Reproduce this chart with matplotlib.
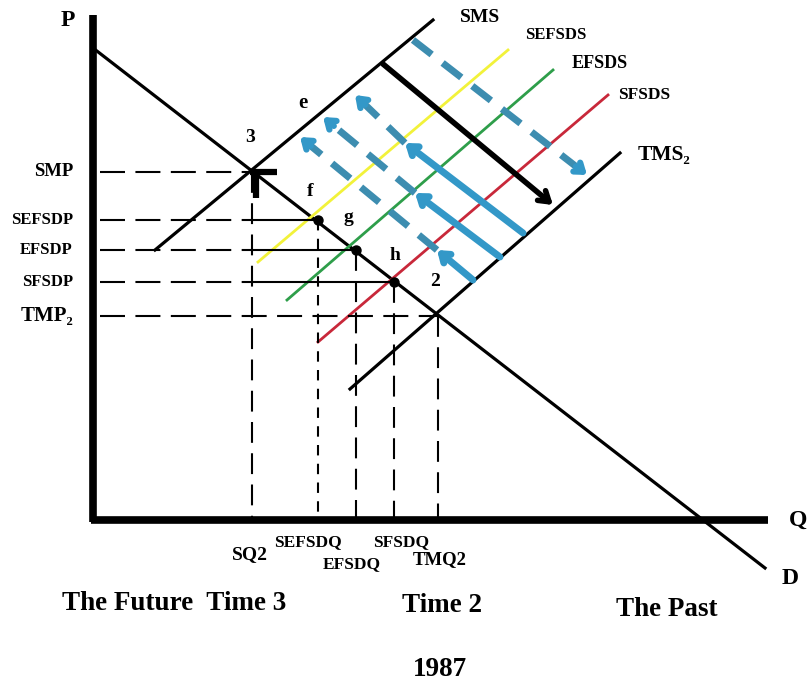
import numpy as np
import matplotlib.pyplot as plt

plt.rcParams['font.family'] = ['Liberation Serif', 'DejaVu Serif']
plt.rcParams['font.weight'] = 'bold'

# chart coordinates (x right, y down)
demand_x = [93, 765]
demand_y = [48, 568]
sms_x = [155, 433]
sms_y = [250, 20]
tms_x = [350, 620]
tms_y = [389, 153]
sefsds_x = [258, 508]
sefsds_y = [262, 50]
efsds_x = [287, 553]
efsds_y = [300, 70]
sfsds_x = [318, 608]
sfsds_y = [342, 95]

price_labels = ['SMP', 'SEFSDP', 'EFSDP', 'SFSDP', 'TMP\u2082']
price_levels = [172, 220, 250, 282, 316]
qty_labels = ['SQ2', 'SEFSDQ', 'EFSDQ', 'SFSDQ', 'TMQ2']
qty_levels = [252, 318, 356, 394, 438]
point_names = ['3', 'f', 'g', 'h', '2']

# blue arrows: tail on TMS2, solid to a shifted supply, dashed on to SMS
arrow_tail = [(523, 233), (500, 257), (473, 280)]
arrow_mid = [(405, 143), (415, 193), (437, 250)]
arrow_head = [(355, 95), (323, 117), (300, 137)]

fig = plt.figure(figsize=(8.09, 6.81), dpi=100)
ax = fig.add_axes([0, 0, 1, 1])
ax.set_xlim(0, 809)
ax.set_ylim(681, 0)
ax.axis('off')

blue = '#3398c8'
dblue = '#3d8db0'

# axes
ax.plot([93, 93], [15, 522], color='black', lw=5.5, solid_capstyle='butt')
ax.plot([91, 768], [520, 520], color='black', lw=5.5, solid_capstyle='butt')

# curves
ax.plot(demand_x, demand_y, color='black', lw=2.3)
ax.plot(sms_x, sms_y, color='black', lw=2.3)
ax.plot(tms_x, tms_y, color='black', lw=2.3)
ax.plot(sefsds_x, sefsds_y, color='#f2f23a', lw=2)
ax.plot(efsds_x, efsds_y, color='#2e9e4a', lw=2)
ax.plot(sfsds_x, sfsds_y, color='#c8283a', lw=2)

# guide lines
for i in range(len(price_levels)):
    p = price_levels[i]
    q = qty_levels[i]
    if i == 0 or i == 4:
        ax.plot([100, q], [p, p], color='black', lw=1.5, dashes=(12, 5))
    else:
        ax.plot([100, qty_levels[0]], [p, p], color='black', lw=1.5, dashes=(12, 5))
        ax.plot([qty_levels[0], q], [p, p], color='black', lw=1.5)
    d = (5, 4) if i == 1 else (10, 5)
    ax.plot([q, q], [p, 520], color='black', lw=1.5, dashes=d)

# dots f, g, h
ax.plot(qty_levels[1:4], price_levels[1:4], 'o', color='black', ms=6.5)

# thick mark at point 3
ax.plot([250, 277], [172, 172], color='black', lw=4.5, solid_capstyle='butt')
ax.plot([256, 256], [172, 198], color='black', lw=4.5, solid_capstyle='butt')

# black shift arrow SMS -> TMS2
ax.annotate('', xy=(553, 205), xytext=(383, 64),
            arrowprops=dict(arrowstyle='->,head_length=0.7,head_width=0.45',
                            lw=4, color='black', shrinkA=0, shrinkB=0))


def dashed_arrow(a, b, col):
    a = np.array(a, float)
    b = np.array(b, float)
    u = (b - a) / np.hypot(*(b - a))
    ax.plot([a[0], b[0] - 8 * u[0]], [a[1], b[1] - 8 * u[1]], color=col,
            lw=5, dashes=(3.4, 2))
    ax.annotate('', xy=b, xytext=b - 14 * u,
                arrowprops=dict(arrowstyle='->,head_length=0.55,head_width=0.4',
                                lw=4.5, color=blue, shrinkA=0, shrinkB=0))


dashed_arrow((413, 40), (587, 175), dblue)
for t, m, h in zip(arrow_tail, arrow_mid, arrow_head):
    ax.annotate('', xy=m, xytext=t,
                arrowprops=dict(arrowstyle='->,head_length=0.55,head_width=0.4',
                                lw=5, color=blue, shrinkA=0, shrinkB=0))
    dashed_arrow(m, h, dblue)

# texts
ax.text(68, 20, 'P', fontsize=17, ha='center', va='center')
ax.text(798, 520, 'Q', fontsize=17, ha='center', va='center')
ax.text(790, 578, 'D', fontsize=17, ha='center', va='center')

price_size = [13.5, 12, 12, 12, 15]
for lab, p, s in zip(price_labels, price_levels, price_size):
    ax.text(73, p, lab, fontsize=s, ha='right', va='center')

qty_pos = [(250, 555), (308, 542), (352, 564), (401, 542), (440, 560)]
qty_size = [14, 12.5, 12.5, 12.5, 13.5]
for lab, (x, y), s in zip(qty_labels, qty_pos, qty_size):
    ax.text(x, y, lab, fontsize=s, ha='center', va='center')

name_pos = [(250, 137), (310, 192), (348, 218), (395, 255), (435, 282)]
for n, (x, y) in zip(point_names, name_pos):
    ax.text(x, y, n, fontsize=14, ha='center', va='center')
ax.text(303, 103, 'e', fontsize=15, ha='center', va='center')

ax.text(480, 18, 'SMS', fontsize=14, ha='center', va='center')
ax.text(556, 35, 'SEFSDS', fontsize=12, ha='center', va='center')
ax.text(600, 63, 'EFSDS', fontsize=13, ha='center', va='center')
ax.text(644, 95, 'SFSDS', fontsize=12.5, ha='center', va='center')
ax.text(664, 155, 'TMS\u2082', fontsize=15.5, ha='center', va='center')

ax.text(174, 604, 'The Future  Time 3', fontsize=19.5, ha='center', va='center')
ax.text(442, 606, 'Time 2', fontsize=19.5, ha='center', va='center')
ax.text(667, 610, 'The Past', fontsize=19.5, ha='center', va='center')
ax.text(440, 669, '1987', fontsize=19.5, ha='center', va='center')

fig.savefig('out.png', dpi=100)
